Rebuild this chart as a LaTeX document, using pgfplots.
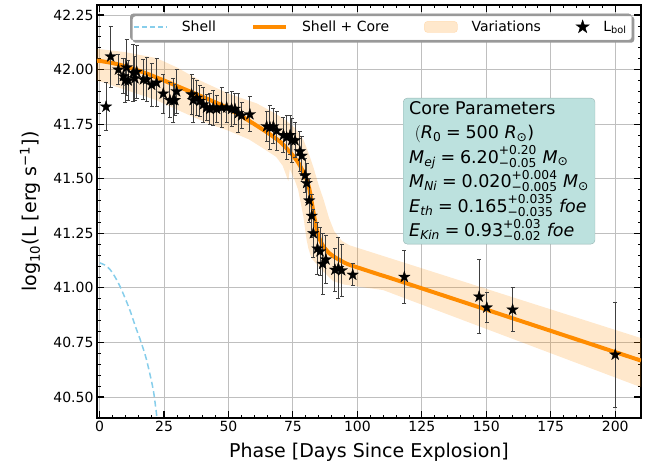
\documentclass[border=0pt]{standalone}
\usepackage{pgfplots}
\pgfplotsset{compat=1.18}
\usepackage{pgfplotstable}
\usepackage{amsmath}
\usepackage{fontspec}
\setmainfont{DejaVu Sans}

\definecolor{dorange}{HTML}{FF8C00}
\definecolor{skyb}{HTML}{87CEEB}
\definecolor{boxteal}{HTML}{BCE1DE}

% filled five-pointed star, like matplotlib's '*'
\pgfdeclareplotmark{fstar}{%
  \pgfpathmoveto{\pgfpointpolar{90}{\pgfplotmarksize}}%
  \pgfpathlineto{\pgfpointpolar{126}{0.382\pgfplotmarksize}}%
  \pgfpathlineto{\pgfpointpolar{162}{\pgfplotmarksize}}%
  \pgfpathlineto{\pgfpointpolar{198}{0.382\pgfplotmarksize}}%
  \pgfpathlineto{\pgfpointpolar{234}{\pgfplotmarksize}}%
  \pgfpathlineto{\pgfpointpolar{270}{0.382\pgfplotmarksize}}%
  \pgfpathlineto{\pgfpointpolar{306}{\pgfplotmarksize}}%
  \pgfpathlineto{\pgfpointpolar{342}{0.382\pgfplotmarksize}}%
  \pgfpathlineto{\pgfpointpolar{18}{\pgfplotmarksize}}%
  \pgfpathlineto{\pgfpointpolar{54}{0.382\pgfplotmarksize}}%
  \pgfpathclose
  \pgfusepathqfillstroke
}

\newcommand{\mi}[1]{\text{\itshape #1}}
\newcommand{\tx}[1]{\text{#1}}

% bolometric light curve
\pgfplotstableread{
x y e
2.5 41.83 0.11
4.3 42.06 0.14
7.3 42.00 0.07
9.2 41.97 0.08
9.9 41.95 0.10
10.5 42.01 0.13
11.1 41.95 0.09
13.1 41.985 0.13
13.7 41.96 0.10
14.4 41.99 0.12
17.0 41.955 0.09
18.3 41.955 0.10
20.2 41.93 0.10
22.1 41.94 0.11
24.7 41.89 0.09
27.3 41.86 0.08
28.6 41.86 0.10
29.2 41.86 0.07
29.9 41.90 0.10
35.7 41.886 0.09
36.3 41.86 0.10
37.7 41.87 0.08
38.9 41.856 0.07
40.2 41.84 0.08
41.5 41.826 0.06
42.8 41.82 0.07
44.1 41.826 0.08
45.4 41.82 0.06
47.4 41.826 0.09
49.3 41.826 0.07
51.2 41.82 0.08
52.5 41.82 0.07
53.8 41.80 0.09
55.1 41.79 0.06
58.3 41.795 0.08
64.8 41.74 0.07
66.1 41.735 0.10
67.4 41.74 0.08
68.7 41.72 0.09
71.3 41.70 0.08
72.6 41.69 0.10
73.9 41.70 0.09
74.5 41.676 0.10
75.8 41.676 0.08
77.7 41.625 0.09
78.4 41.605 0.09
79.7 41.515 0.08
80.3 41.48 0.09
81.3 41.40 0.10
82.3 41.33 0.10
82.9 41.25 0.11
84.5 41.18 0.12
85.5 41.167 0.11
86.5 41.11 0.14
87.8 41.13 0.11
91.3 41.083 0.10
92.6 41.09 0.14
93.9 41.08 0.12
98.2 41.06 0.05
118.2 41.05 0.12
147.2 40.96 0.17
150.2 40.91 0.07
160.2 40.90 0.10
200.0 40.694 0.24
}\lbol

\begin{document}
\begin{tikzpicture}
\begin{axis}[
    scale only axis,
    width=544pt, height=413pt,
    xmin=-1, xmax=210,
    ymin=40.404, ymax=42.296,
    xtick={0,25,...,200},
    ytick={40.5,40.75,...,42.3},
    minor x tick num=4,
    minor y tick num=4,
    scaled y ticks=false,
    yticklabel style={/pgf/number format/.cd, fixed, fixed zerofill, precision=2},
    /pgf/number format/assume math mode=true,
    tick label style={font=\fontsize{14}{16}\selectfont},
    tick align=inside,
    major tick length=7pt,
    minor tick length=3.5pt,
    every tick/.style={black, line width=1.1pt},
    minor tick style={black, line width=0.8pt},
    axis line style={line width=1.1pt},
    grid=major,
    major grid style={black!25, line width=0.9pt},
    xlabel={Phase [Days Since Explosion]},
    ylabel={log\textsubscript{10}(L [erg s\textsuperscript{−1}])},
    label style={font=\fontsize{19}{22}\selectfont},
    xlabel style={at={(axis description cs:0.5,-0.082)}, anchor=center},
    ylabel style={at={(axis description cs:-0.123,0.5)}, anchor=center},
    legend columns=4,
    legend cell align=left,
    legend style={
        name=leg,
        at={(0.983,0.979)}, anchor=north east,
        font=\fontsize{14}{16}\selectfont,
        draw=black!20, fill=white, rounded corners=3pt,
        inner xsep=3pt, inner ysep=5pt,
        /tikz/every odd column/.append style={column sep=12pt},
        /tikz/every even column/.append style={column sep=33pt},
    },
]

% variations band (max and min of the model grid)
\addplot[forget plot, draw=none, fill=dorange, fill opacity=0.2] coordinates {
(-1,42.095) (0,42.094) (10,42.08) (22,42.053) (30,42.01) (39,41.95) (50,41.89)
(61,41.845) (68,41.80) (72,41.77) (76,41.73) (79,41.68) (81,41.62) (83,41.55)
(85,41.47) (87,41.40) (89,41.32) (91,41.26) (94,41.215) (97,41.195) (101,41.18)
(210,40.77)
(210,40.545) (110,40.99) (101,41.005) (95,41.015) (90.7,41.03) (85.5,41.09)
(82.2,41.136) (81,41.18) (80.3,41.22) (79,41.33) (77,41.45) (75.8,41.49)
(73.8,41.545) (73.2,41.49) (71,41.56) (68.5,41.60) (64,41.635) (58,41.68)
(50,41.72) (42.8,41.75) (35,41.79) (22,41.86) (0,41.947) (-1,41.95)
} -- cycle;

% shell + core model
\addplot[forget plot, dorange, line width=4pt, smooth, tension=0.4] coordinates {
(-1,42.04) (0,42.04) (5,42.03) (10,42.015) (17.6,41.985) (25,41.95) (30,41.925)
(40,41.875) (48.6,41.83) (56,41.78) (64,41.72) (70,41.67) (74,41.62) (77,41.575)
(79,41.53) (80.5,41.49) (81.6,41.44) (82.9,41.35) (84.2,41.27) (85.5,41.22)
(86.8,41.19) (89,41.16) (92,41.135) (96,41.11) (101,41.09) (108.8,41.06)
(118,41.025) (210,40.667)
};

% shell only
\addplot[forget plot, skyb, line width=1.5pt, dash pattern=on 6pt off 3.5pt, smooth] coordinates {
(0,41.115) (2,41.105) (4,41.085) (6,41.05) (8,41.005) (10,40.95) (12,40.89)
(14,40.82) (16,40.755) (18,40.68) (20,40.58) (21,40.52) (22,40.43) (22.5,40.38)
};

% data
\addplot[forget plot, only marks, mark=fstar, mark size=6pt,
    mark options={fill=black, draw=black, line width=0.3pt},
    error bars/.cd, y dir=both, y explicit,
    error bar style={line width=1pt, black!75},
    error mark options={rotate=90, mark size=2pt, line width=0.9pt, black!75}]
    table[x=x, y=y, y error=e] {\lbol};

\addlegendimage{legend image code/.code={\draw[skyb, line width=1.5pt, dash pattern=on 5pt off 3pt] (0pt,0pt) -- (33pt,0pt);}}
\addlegendentry{Shell}
\addlegendimage{legend image code/.code={\draw[dorange, line width=4pt] (0pt,0pt) -- (33pt,0pt);}}
\addlegendentry{Shell + Core}
\addlegendimage{legend image code/.code={\fill[dorange, opacity=0.2] (0pt,-5.5pt) rectangle (33pt,5.5pt);}}
\addlegendentry{Variations}
\addlegendimage{legend image code/.code={\draw[black, fill=black, mark size=7pt] plot[mark=fstar] coordinates {(16pt,0pt)};}}
\addlegendentry{L\textsubscript{bol}}

\node[anchor=north west, fill=boxteal, draw=boxteal!80!black, line width=0.4pt,
      rounded corners=4pt, align=left, inner xsep=6pt, inner ysep=3pt,
      font=\fontsize{17.5}{24.5}\selectfont]
  at (rel axis cs:0.5625,0.775) {%
  Core Parameters\\
  \ $(\mi{R}_{\tx{0}} \mathrel{\tx{=}} \tx{500}\ \mi{R}_{\tx{⊙}}\tx{)}$\\
  $\mi{M}_{\mi{ej}} \mathrel{\tx{=}} \tx{6.20}^{\tx{+0.20}}_{\tx{−0.05}}\ \mi{M}_{\tx{⊙}}$\\
  $\mi{M}_{\mi{Ni}} \mathrel{\tx{=}} \tx{0.020}^{\tx{+0.004}}_{\tx{−0.005}}\ \mi{M}_{\tx{⊙}}$\\
  $\mi{E}_{\mi{th}} \mathrel{\tx{=}} \tx{0.165}^{\tx{+0.035}}_{\tx{−0.035}}\ \mi{foe}$\\
  $\mi{E}_{\mi{Kin}} \mathrel{\tx{=}} \tx{0.93}^{\tx{+0.03}}_{\tx{−0.02}}\ \mi{foe}$};
\end{axis}
% legend shadow: offset copy of the frame, minus the frame itself
\fill[black!40, even odd rule, rounded corners=3pt]
  ([xshift=2.5pt,yshift=-2.5pt]leg.south west) rectangle ([xshift=2.5pt,yshift=-2.5pt]leg.north east)
  (leg.south west) rectangle (leg.north east);
\pgfresetboundingbox
\path ([xshift=-97pt,yshift=-48pt]current axis.south west) rectangle ([xshift=14pt,yshift=5pt]current axis.north east);
\end{tikzpicture}
\end{document}
